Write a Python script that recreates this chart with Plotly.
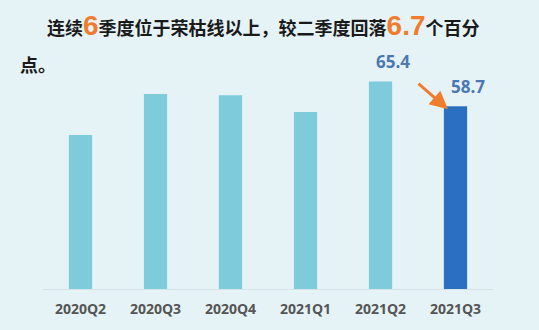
import plotly.graph_objects as go

categories = ["2020Q2", "2020Q3", "2020Q4", "2021Q1", "2021Q2", "2021Q3"]
values = [51.0, 62.0, 61.7, 57.2, 65.4, 58.7]
labels = {4: "65.4", 5: "58.7"}

bar_colors = ["#7ecbdc"] * 5 + ["#2b6fc0"]

fig = go.Figure()
fig.add_trace(go.Bar(
    x=categories, y=values, marker=dict(color=bar_colors, line=dict(width=0)),
    width=0.31, hoverinfo="skip",
))

orange = "#f07d2e"
num_font = "Liberation Sans Narrow, Liberation Sans, sans-serif"
title1 = ("连续<span style=\"font-size:28px;color:%s;font-family:%s\">6</span>"
          "季度位于荣枯线以上，较二季度回落"
          "<span style=\"font-size:28px;color:%s;font-family:%s\">6.7</span>个百分") % (orange, num_font, orange, num_font)

annotations = [
    dict(text=title1, xref="paper", yref="paper", x=(263 - 43) / 450, y=1 + (40 - 26) / 249,
         xanchor="center", yanchor="middle", showarrow=False,
         font=dict(family="Noto Sans CJK SC", size=18, color="#1a1a1a", weight="bold")),
    dict(text="点。", xref="paper", yref="paper", x=(18 - 43) / 450, y=1 - (64 - 40) / 249,
         xanchor="left", yanchor="middle", showarrow=False,
         font=dict(family="Noto Sans CJK SC", size=18, color="#1a1a1a", weight="bold")),
]
for i, t in labels.items():
    annotations.append(dict(
        text=t, x=categories[i], y=values[i], xref="x", yref="y", yanchor="bottom",
        xshift=12, yshift=6, showarrow=False,
        font=dict(family="Open Sans", size=17, color="#4a78b3", weight="bold")))

# arrow from the 2021Q2 label down toward 2021Q3
annotations.append(dict(
    x=4.9, y=57.9, xref="x", yref="y", ax=-31, ay=-27, axref="pixel", ayref="pixel",
    showarrow=True, arrowhead=2, arrowsize=1.2, arrowwidth=3, arrowcolor=orange, text=""))

fig.update_layout(
    width=539, height=330,
    margin=dict(l=43, r=46, t=40, b=41),
    paper_bgcolor="#e6f3f6", plot_bgcolor="#e6f3f6",
    showlegend=False,
    bargap=0.69,
    annotations=annotations,
    xaxis=dict(showgrid=False, showline=True, linecolor="#d3e3e8", linewidth=1,
               tickfont=dict(family="Open Sans", size=14, color="#555555", weight="bold"),
               ticks="", ticklabelstandoff=7, fixedrange=True),
    yaxis=dict(range=[9.7, 76.5], visible=False, showgrid=False, fixedrange=True),
)

fig.write_html("out.html", config={"displayModeBar": False})
